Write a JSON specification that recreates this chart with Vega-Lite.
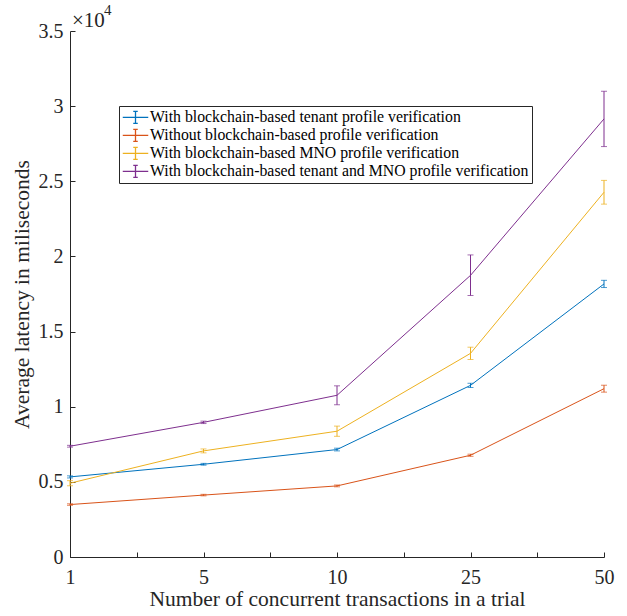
{
  "$schema": "https://vega.github.io/schema/vega-lite/v6.json",
  "width": 534,
  "height": 526,
  "autosize": {"type": "none"},
  "padding": {"left": 70, "top": 31, "right": 23, "bottom": 59},
  "background": "white",
  "config": {
    "font": "Liberation Serif, Times New Roman, serif",
    "view": {"stroke": null},
    "text": {"font": "Liberation Serif, Times New Roman, serif"},
    "legend": {"labelFont": "Liberation Serif, Times New Roman, serif"},
    "axis": {
      "grid": false,
      "domainColor": "#262626",
      "tickColor": "#262626",
      "labelColor": "#262626",
      "titleColor": "#262626",
      "labelFont": "Liberation Serif, Times New Roman, serif",
      "titleFont": "Liberation Serif, Times New Roman, serif",
      "labelFontSize": 20,
      "titleFontSize": 21.5,
      "titleFontWeight": "normal",
      "tickSize": -5,
      "domainWidth": 1,
      "tickWidth": 1
    }
  },
  "data": {
    "values": [
      {"series": "With blockchain-based tenant profile verification", "n": 1, "mean": 5330, "lo": 5260, "hi": 5400},
      {"series": "With blockchain-based tenant profile verification", "n": 5, "mean": 6170, "lo": 6110, "hi": 6230},
      {"series": "With blockchain-based tenant profile verification", "n": 10, "mean": 7150, "lo": 7060, "hi": 7240},
      {"series": "With blockchain-based tenant profile verification", "n": 25, "mean": 11420, "lo": 11280, "hi": 11560},
      {"series": "With blockchain-based tenant profile verification", "n": 50, "mean": 18170, "lo": 17930, "hi": 18410},
      {"series": "Without blockchain-based profile verification", "n": 1, "mean": 3490, "lo": 3440, "hi": 3540},
      {"series": "Without blockchain-based profile verification", "n": 5, "mean": 4120, "lo": 4070, "hi": 4170},
      {"series": "Without blockchain-based profile verification", "n": 10, "mean": 4730, "lo": 4670, "hi": 4790},
      {"series": "Without blockchain-based profile verification", "n": 25, "mean": 6770, "lo": 6700, "hi": 6840},
      {"series": "Without blockchain-based profile verification", "n": 50, "mean": 11200, "lo": 10970, "hi": 11430},
      {"series": "With blockchain-based MNO profile verification", "n": 1, "mean": 4910, "lo": 4740, "hi": 5080},
      {"series": "With blockchain-based MNO profile verification", "n": 5, "mean": 7060, "lo": 6930, "hi": 7190},
      {"series": "With blockchain-based MNO profile verification", "n": 10, "mean": 8370, "lo": 8030, "hi": 8710},
      {"series": "With blockchain-based MNO profile verification", "n": 25, "mean": 13550, "lo": 13140, "hi": 13960},
      {"series": "With blockchain-based MNO profile verification", "n": 50, "mean": 24270, "lo": 23480, "hi": 25060},
      {"series": "With blockchain-based tenant and MNO profile verification", "n": 1, "mean": 7370, "lo": 7310, "hi": 7430},
      {"series": "With blockchain-based tenant and MNO profile verification", "n": 5, "mean": 8960, "lo": 8880, "hi": 9040},
      {"series": "With blockchain-based tenant and MNO profile verification", "n": 10, "mean": 10760, "lo": 10130, "hi": 11390},
      {"series": "With blockchain-based tenant and MNO profile verification", "n": 25, "mean": 18740, "lo": 17400, "hi": 20100},
      {"series": "With blockchain-based tenant and MNO profile verification", "n": 50, "mean": 29150, "lo": 27310, "hi": 30990}
    ]
  },
  "transform": [{"calculate": "indexof([1,5,10,25,50], datum.n)", "as": "idx"}],
  "encoding": {
    "x": {
      "field": "idx",
      "type": "quantitative",
      "scale": {"domain": [0, 4], "nice": false, "zero": false},
      "axis": {
        "title": "Number of concurrent transactions in a trial",
        "values": [0, 0.5, 1, 1.5, 2, 2.5, 3, 3.5, 4],
        "labelExpr": "datum.value==0?'1':datum.value==1?'5':datum.value==2?'10':datum.value==3?'25':datum.value==4?'50':''",
        "labelPadding": 15,
        "titlePadding": 1,
        "labelFlush": false
      }
    },
    "color": {
      "field": "series",
      "type": "nominal",
      "scale": {
        "domain": [
          "With blockchain-based tenant profile verification",
          "Without blockchain-based profile verification",
          "With blockchain-based MNO profile verification",
          "With blockchain-based tenant and MNO profile verification"
        ],
        "range": ["#0072BD", "#D95319", "#EDB120", "#7E2F8E"]
      },
      "legend": {
        "title": null,
        "orient": "none",
        "legendX": 49,
        "legendY": 75,
        "strokeColor": "#262626",
        "fillColor": "white",
        "padding": 3,
        "rowPadding": 1,
        "clipHeight": 16.8,
        "labelFontSize": 15.8,
        "labelColor": "#000000",
        "labelLimit": 600,
        "symbolType": "M-1.7,0H1.7M0,-0.8V0.8M-0.3,-0.8H0.3M-0.3,0.8H0.3",
        "symbolSize": 225,
        "symbolStrokeWidth": 1.3,
        "symbolOpacity": 1,
        "symbolOffset": 5,
        "labelOffset": 6
      }
    }
  },
  "layer": [
    {
      "mark": {"type": "line", "strokeWidth": 1},
      "encoding": {
        "y": {
          "field": "mean",
          "type": "quantitative",
          "scale": {"domain": [0, 35000], "nice": false},
          "axis": {
            "title": "Average latency in miliseconds",
            "values": [0, 5000, 10000, 15000, 20000, 25000, 30000, 35000],
            "labelExpr": "format(datum.value/10000, '~g')",
            "labelPadding": 12,
            "titlePadding": 5
          }
        }
      }
    },
    {
      "mark": {"type": "rule", "strokeWidth": 1},
      "encoding": {
        "y": {"field": "lo", "type": "quantitative"},
        "y2": {"field": "hi"}
      }
    },
    {
      "mark": {"type": "tick", "orient": "horizontal", "size": 6, "thickness": 1},
      "encoding": {"y": {"field": "lo", "type": "quantitative"}}
    },
    {
      "mark": {"type": "tick", "orient": "horizontal", "size": 6, "thickness": 1},
      "encoding": {"y": {"field": "hi", "type": "quantitative"}}
    },
    {
      "transform": [{"filter": "datum.n == 50 && datum.series == 'Without blockchain-based profile verification'"}],
      "mark": {"type": "text", "align": "left", "baseline": "alphabetic", "dx": 2, "dy": -4.5, "fontSize": 21},
      "encoding": {
        "x": {"datum": 0, "type": "quantitative"},
        "y": {"datum": 35000, "type": "quantitative"},
        "text": {"value": "×10"},
        "color": {"value": "#262626"}
      }
    },
    {
      "transform": [{"filter": "datum.n == 50 && datum.series == 'Without blockchain-based profile verification'"}],
      "mark": {"type": "text", "align": "left", "baseline": "alphabetic", "dx": 34, "dy": -16, "fontSize": 15},
      "encoding": {
        "x": {"datum": 0, "type": "quantitative"},
        "y": {"datum": 35000, "type": "quantitative"},
        "text": {"value": "4"},
        "color": {"value": "#262626"}
      }
    }
  ]
}
